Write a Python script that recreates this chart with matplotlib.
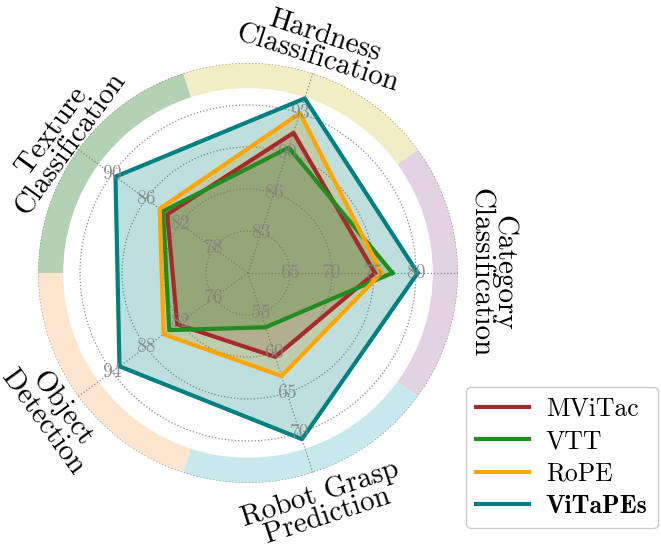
import numpy as np
import matplotlib
matplotlib.use("Agg")
import matplotlib.pyplot as plt
from matplotlib.font_manager import FontProperties

plt.rcParams["font.family"] = "cmr10"
plt.rcParams["axes.formatter.use_mathtext"] = True

# ejes del radar (en orden antihorario desde la derecha)
categorias = ["Category\nClassification", "Hardness\nClassification",
              "Texture\nClassification", "Object\nDetection",
              "Robot Grasp\nPrediction"]
# escala de cada eje: valor en el centro y paso por anillo
eje_min = [60, 80, 74, 70, 50]
eje_paso = [5, 3.25, 4, 6, 5]

# valores
mvitac = [75.1, 91.4, 83.5, 82.5, 60.5]
vtt = [77.2, 90.2, 84.0, 83.9, 56.8]
rope = [75.9, 93.0, 84.4, 84.9, 62.9]
vitapes = [80.2, 94.2, 89.6, 92.7, 70.8]

series = [("MViTac", mvitac, "#a52a2a"),
          ("VTT", vtt, "#228b22"),
          ("RoPE", rope, "#ffa500"),
          ("ViTaPEs", vitapes, "#008080")]

colores_anillo = ["#e3d1e4", "#f2edc4", "#b3d1b3", "#fde5cf", "#c9e8ec"]

n = len(categorias)
angulos = np.arange(n) * 2 * np.pi / n

fig = plt.figure(figsize=(6.61, 5.47), dpi=100)
ax = fig.add_axes([0.0575, 0.117, 0.6354, 0.768], projection="polar")
ax.set_ylim(0, 5)

# anillo de colores por eje
ax.bar(angulos, 0.6, width=2 * np.pi / n, bottom=4.4, color=colores_anillo,
       edgecolor="none", zorder=0.2)

for nombre, valores, color in series:
    r = [(v - lo) / p for v, lo, p in zip(valores, eje_min, eje_paso)]
    r = r + r[:1]
    th = list(angulos) + [angulos[0]]
    ax.plot(th, r, color=color, lw=3, label=nombre, zorder=3)
    ax.fill(th, r, color=color, alpha=0.25, zorder=2)

ax.set_xticks(angulos)
ax.set_xticklabels([])
ax.set_yticks([1, 2, 3, 4, 5])
ax.set_yticklabels([])
ax.grid(True, color="gray", linestyle=":", lw=0.9, alpha=0.9)
ax.spines["polar"].set_visible(False)

# etiquetas de cada anillo en cada eje
for i, a in enumerate(angulos):
    for k in range(1, 5):
        ax.text(a, k, "%.0f" % (eje_min[i] + k * eje_paso[i]), ha="center",
                va="center", fontsize=14, color="gray", alpha=0.85, zorder=4)

# nombres de los ejes
rotaciones = [-90, -18, 54, -54, 18]
radios = [5.8, 5.64, 5.48, 5.76, 5.8]
for a, txt, rot, rr in zip(angulos, categorias, rotaciones, radios):
    ax.text(a, rr, txt, ha="center", va="center", rotation=rot,
            rotation_mode="anchor", fontsize=21, linespacing=0.85,
            clip_on=False)

leg = fig.legend(loc="lower right", bbox_to_anchor=(0.995, 0.035),
                 borderaxespad=0, fontsize=18.5, handlelength=2.05,
                 labelspacing=0.34, borderpad=0.4, handletextpad=0.66,
                 framealpha=1, edgecolor="#cccccc")
leg.get_texts()[3].set_fontproperties(FontProperties(family="cmb10", size=18.5))

fig.savefig("out.png", dpi=100)
